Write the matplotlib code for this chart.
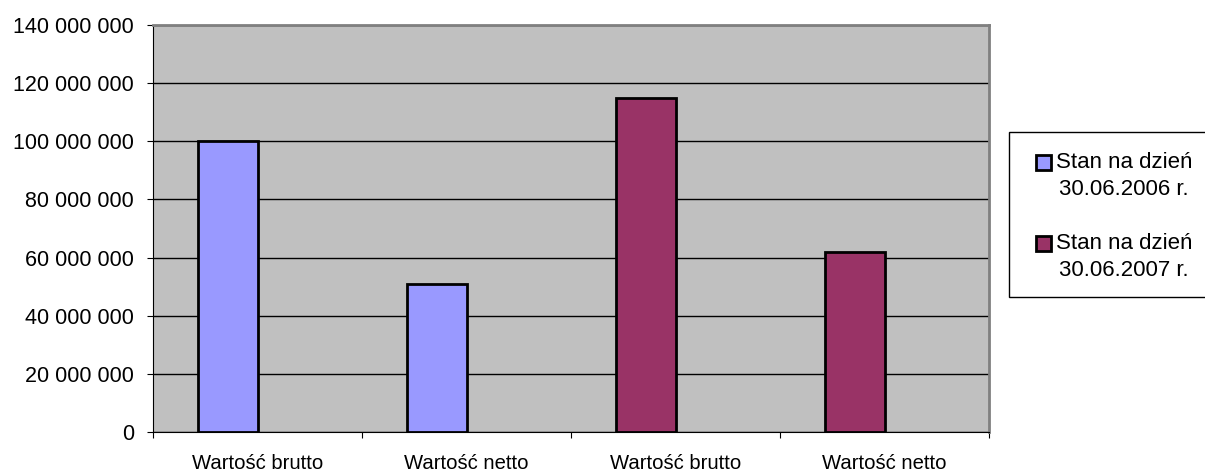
import matplotlib
matplotlib.use("Agg")
import matplotlib.pyplot as plt
import numpy as np
from matplotlib.patches import Rectangle

categories = ["Wartość brutto", "Wartość netto", "Wartość brutto", "Wartość netto"]
series_names = ["Stan na dzień\n30.06.2006 r.", "Stan na dzień\n30.06.2007 r."]
values_2006 = [100_000_000, 50_800_000, 0, 0]
values_2007 = [0, 0, 115_000_000, 62_000_000]
colors = ["#9999FF", "#993366"]
yticks = list(range(0, 140_000_001, 20_000_000))

plt.rcParams['font.family'] = ['Liberation Sans', 'DejaVu Sans']

W, H = 1205, 472
fig = plt.figure(figsize=(W / 100, H / 100), dpi=100)
ax = fig.add_axes([153 / W, 1 - 432 / H, (989 - 153) / W, (432 - 25) / H])
ax.set_facecolor("#C0C0C0")

x = np.arange(len(categories)) + 0.5
bw = 1 / 3.5
for vals, c in zip([values_2006, values_2007], colors):
    mask = np.array(vals) > 0
    ax.bar(x[mask], np.array(vals)[mask], width=-bw, align='edge', color=c,
           edgecolor="black", linewidth=2, zorder=3)

ax.set_xlim(0, 4)
ax.set_ylim(0, 140_000_000)
ax.set_yticks(yticks)
ax.set_yticklabels([f"{v:,}".replace(",", " ") for v in yticks], fontsize=15.5)
ax.yaxis.grid(True, color="black", linewidth=1, zorder=1)
ax.set_xticks(np.arange(0, 5))
ax.set_xticklabels([])
ax.set_xticks(x, minor=True)
ax.set_xticklabels(categories, minor=True, fontsize=14.6)
ax.tick_params(axis='x', which='minor', length=0, pad=16)
ax.tick_params(axis='x', which='major', length=4.3, direction='out', color="black")
ax.tick_params(axis='y', length=4.3, direction='out', color="black", pad=9.4)
for s in ["top", "right"]:
    ax.spines[s].set_color("#808080")
    ax.spines[s].set_linewidth(2)
ax.spines["left"].set_color("black")
ax.spines["bottom"].set_color("black")

# legend (drawn manually in figure pixel coordinates)
def fx(px):
    return px / W
def fy(py):
    return 1 - py / H

fig.patches.append(Rectangle((fx(1009), fy(297)), fx(1205 + 10) - fx(1009), fy(132) - fy(297),
                             transform=fig.transFigure, facecolor="white",
                             edgecolor="black", linewidth=1, clip_on=False))
entry_y = [162, 243]
for name, c, yy in zip(series_names, colors, entry_y):
    fig.patches.append(Rectangle((fx(1036), fy(yy + 7.5)), fx(15), 15 / H,
                                 transform=fig.transFigure, facecolor=c,
                                 edgecolor="black", linewidth=2))
    fig.text(fx(1124), fy(yy - 10), name, ha="center", va="top", fontsize=16,
             multialignment="center", linespacing=1.4)

fig.savefig("out.png", dpi=100)
